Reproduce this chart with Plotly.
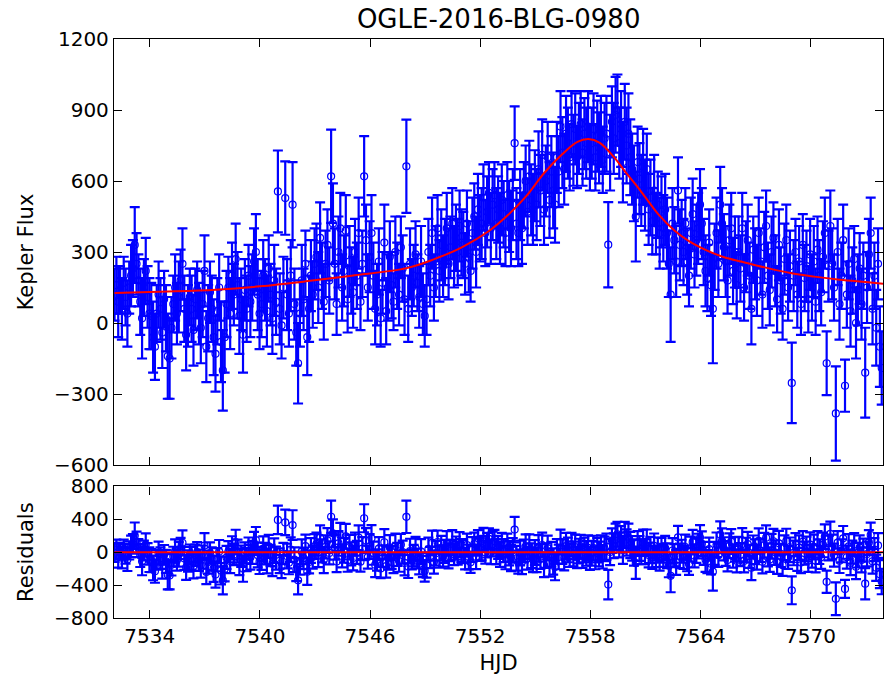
import numpy as np
import plotly.graph_objects as go
from plotly.subplots import make_subplots

# K2 long-cadence photometry of the microlensing event
HJD_START = 7532.08
CADENCE = 0.1  # days

flux = [
    120, 160, 90, 140, 60, 170, 110, 40, 150, 200,
    230, 330, 250, 180, 90, 20, 150, 220, 110, 40,
    30, -60, -100, 40, 120, 60, -40, 100, 20, -140,
    -150, -20, 80, 150, 40, 110, 180, 250, 60, -50,
    30, 110, 60, -30, 100, 140, 40, -20, 80, 220,
    -100, 20, 130, 60, -60, -130, 50, 150, -80, -200,
    -60, 80, 150, 40, 200, 120, 270, 160, 30, 100,
    -50, 140, 60, 200, 90, 150, 260, 300, 120, 40,
    80, 200, 140, 50, 230, 120, 20, 180, 90, 556,
    60, -10, 150, 528, 120, 40, 200, 500, 80, -40,
    -170, 40, 180, 100, 250, -60, 60, 200, 120, 250,
    280, 150, 360, 200, 90, 250, 330, 180, 620, 420,
    250, 80, 300, 400, 150, 220, 390, 100, 260, 180,
    130, 300, 200, 380, 90, 250, 620, 350, 150, 280,
    380, 200, 60, 120, 260, 20, 170, 340, 50, 150,
    280, 160, 90, 300, 200, 120, 320, 230, 100, 662,
    60, 250, 150, 200, 290, 170, 110, 260, 80, 30,
    100, 300, 200, 380, 150, 260, 400, 220, 330, 240,
    300, 400, 250, 320, 420, 280, 360, 300, 410, 340,
    330, 250, 420, 280, 220, 380, 450, 300, 480, 400,
    420, 530, 380, 470, 550, 400, 500, 540, 420, 480,
    400, 520, 460, 380, 540, 450, 400, 500, 760, 420,
    380, 500, 400, 540, 600, 470, 620, 520, 480, 580,
    500, 650, 560, 710, 480, 600, 700, 520, 640, 560,
    500, 700, 640, 830, 720, 650, 800, 760, 700, 840,
    730, 820, 700, 780, 840, 720, 800, 760, 830, 700,
    760, 820, 700, 790, 740, 810, 690, 780, 800, 331,
    720, 850, 780, 880, 900, 760, 820, 680, 850, 750,
    800, 700, 650, 590, 450, 680, 610, 560, 660, 540,
    650, 480, 530, 430, 560, 420, 500, 380, 470, 400,
    480, 380, 250, 120, 420, 350, 260, 560, 330, 380,
    300, 420, 260, 200, 380, 460, 290, 350, 400, 500,
    420, 300, 220, 190, 340, 160, 60, 280, 380, 250,
    500, 420, 320, 260, 180, 350, 400, 220, 300, 160,
    300, 230, 400, 150, 280, 350, 200, 60, 310, 250,
    180, 380, 260, 120, 320, 410, 200, 140, 300, 360,
    220, 100, 330, 180, 60, 270, 350, 150, 240, -253,
    200, 300, 120, 260, 80, 330, 190, 240, 100, 290,
    150, 260, 90, 310, 200, 130, 280, 380, -170, 240,
    410, 250, 150, -382, 300, 80, 200, 350, -265, 120,
    250, 50, 180, 270, 0, 140, 230, 80, 200, -210,
    150, 290, 380, 60, 200, -20, 250, -100, -190,
]

flux_err = [
    110, 120, 150, 100, 130, 110, 120, 140, 110, 130,
    120, 160, 130, 110, 140, 170, 120, 140, 130, 150,
    140, 150, 140, 120, 140, 130, 150, 120, 140, 180,
    170, 130, 120, 140, 130, 150, 130, 150, 140, 150,
    130, 120, 140, 150, 130, 120, 130, 150, 140, 150,
    150, 140, 130, 140, 160, 160, 140, 140, 170, 170,
    150, 140, 130, 150, 140, 130, 150, 140, 160, 130,
    160, 130, 140, 130, 150, 140, 140, 160, 150, 150,
    140, 150, 130, 150, 140, 130, 150, 150, 140, 173,
    150, 140, 130, 155, 150, 140, 150, 180, 150, 140,
    170, 140, 150, 130, 140, 160, 140, 150, 140, 150,
    140, 150, 150, 140, 160, 140, 150, 140, 197, 170,
    150, 130, 150, 150, 140, 150, 150, 140, 150, 140,
    150, 140, 140, 150, 120, 140, 170, 150, 140, 150,
    160, 140, 150, 130, 140, 120, 130, 160, 140, 140,
    150, 140, 120, 150, 140, 130, 130, 140, 150, 197,
    140, 150, 120, 130, 140, 120, 130, 150, 130, 130,
    150, 140, 130, 150, 140, 150, 140, 130, 150, 130,
    140, 150, 150, 130, 150, 130, 140, 140, 150, 140,
    140, 130, 140, 150, 130, 150, 140, 150, 150, 140,
    150, 140, 140, 150, 130, 150, 150, 140, 150, 140,
    150, 150, 140, 140, 140, 150, 160, 150, 155, 150,
    140, 150, 150, 140, 150, 140, 150, 150, 150, 150,
    150, 160, 150, 150, 150, 150, 150, 160, 150, 160,
    160, 150, 150, 150, 150, 150, 160, 150, 140, 140,
    150, 150, 130, 150, 140, 140, 150, 150, 150, 140,
    150, 150, 140, 150, 150, 150, 140, 150, 160, 180,
    160, 150, 150, 160, 150, 150, 160, 170, 160, 160,
    170, 160, 150, 160, 190, 150, 150, 150, 160, 150,
    150, 150, 160, 140, 150, 130, 140, 150, 150, 140,
    150, 150, 140, 200, 150, 140, 150, 140, 150, 140,
    140, 150, 140, 130, 150, 150, 140, 150, 150, 150,
    150, 140, 150, 140, 140, 130, 230, 140, 150, 140,
    160, 150, 140, 150, 140, 150, 150, 140, 150, 140,
    150, 140, 150, 140, 150, 150, 140, 150, 140, 150,
    150, 150, 140, 140, 150, 150, 140, 150, 150, 150,
    150, 140, 150, 140, 130, 150, 150, 140, 150, 170,
    150, 140, 140, 150, 130, 130, 140, 150, 140, 150,
    140, 150, 140, 140, 150, 140, 150, 150, 135, 150,
    150, 150, 140, 199, 140, 150, 140, 150, 110, 140,
    150, 150, 140, 140, 150, 150, 150, 150, 140, 190,
    150, 150, 150, 150, 140, 160, 150, 170, 155,
]

# Best-fit point-lens model curve
model_hjd = [
    7532.08, 7535.0, 7537.6, 7540.0, 7542.5, 7545.0, 7548.0, 7549.5,
    7551.0, 7552.5, 7553.5, 7554.5, 7555.5, 7556.5, 7557.3, 7557.9,
    7558.5, 7559.3, 7560.0, 7560.7, 7561.7, 7562.6, 7563.4, 7564.4,
    7565.3, 7566.2, 7567.5, 7568.9, 7570.2, 7571.6, 7573.0, 7573.95,
]
model_flux = [
    127, 133, 141, 155, 176, 200, 232, 270,
    320, 390, 455, 535, 635, 715, 765, 777,
    762, 700, 630, 563, 460, 390, 345, 305,
    278, 260, 235, 211, 196, 183, 173, 166,
]

hjd = HJD_START + CADENCE * np.arange(len(flux))
flux_arr = np.array(flux, dtype=float)
err_arr = np.array(flux_err, dtype=float)
residuals = flux_arr - np.interp(hjd, model_hjd, model_flux)
model_resid = np.array(model_flux, dtype=float) - np.array(model_flux, dtype=float)

BLUE = "#0000ff"
RED = "#ff0000"
FONT = "DejaVu Sans"

fig = make_subplots(rows=2, cols=1, shared_xaxes=False)

err_style = dict(type="data", color=BLUE, thickness=2.2, width=5)
marker_style = dict(symbol="circle-open", size=7, color=BLUE, line=dict(width=1.2, color=BLUE))

fig.add_trace(go.Scatter(
    x=hjd, y=flux_arr, mode="markers", marker=marker_style,
    error_y=dict(array=err_arr, **err_style), showlegend=False,
), row=1, col=1)
fig.add_trace(go.Scatter(
    x=model_hjd, y=model_flux, mode="lines", line=dict(color=RED, width=2, shape="spline"),
    showlegend=False,
), row=1, col=1)

fig.add_trace(go.Scatter(
    x=hjd, y=residuals, mode="markers", marker=marker_style,
    error_y=dict(array=err_arr, **err_style), showlegend=False,
), row=2, col=1)
fig.add_trace(go.Scatter(
    x=model_hjd, y=model_resid, mode="lines", line=dict(color=RED, width=2),
    showlegend=False,
), row=2, col=1)

axis_common = dict(
    showline=True, linecolor="black", linewidth=1.3, mirror="ticks",
    ticks="inside", ticklen=8, tickwidth=1, tickcolor="black",
    showgrid=False, zeroline=False,
    tickfont=dict(family=FONT, size=20, color="black"),
)
x_range = [7532.05, 7573.95]

fig.update_xaxes(**axis_common, range=x_range, tick0=7534, dtick=6)
fig.update_xaxes(showticklabels=False, domain=[0, 1], row=1, col=1)
fig.update_xaxes(
    domain=[0, 1], row=2, col=1,
    title=dict(text="HJD", font=dict(family=FONT, size=21, color="black"), standoff=8),
)

fig.update_yaxes(**axis_common)
fig.update_yaxes(
    range=[-600, 1200], tick0=-600, dtick=300, domain=[0.2642, 1.0], row=1, col=1,
    title=dict(text="Kepler Flux", font=dict(family=FONT, size=21, color="black"), standoff=14),
)
fig.update_yaxes(
    range=[-800, 800], tick0=-800, dtick=400, domain=[0.0, 0.2273], row=2, col=1,
    title=dict(text="Residuals", font=dict(family=FONT, size=21, color="black"), standoff=14),
)

fig.update_layout(
    width=885, height=684,
    margin=dict(l=114, r=2, t=39, b=66),
    paper_bgcolor="white", plot_bgcolor="white",
    title=dict(
        text="OGLE-2016-BLG-0980", x=0.5635, xanchor="center", y=0.972, yanchor="middle",
        font=dict(family=FONT, size=26, color="black"),
    ),
    font=dict(family=FONT, color="black"),
)

fig.write_html("out.html")
